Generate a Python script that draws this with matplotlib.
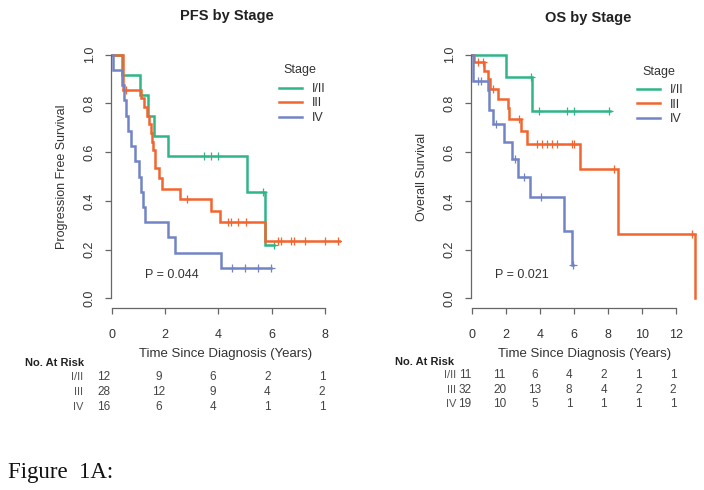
import numpy as np
import matplotlib
matplotlib.use("Agg")
import matplotlib.pyplot as plt
from matplotlib.lines import Line2D

plt.rcParams['font.family'] = ['Liberation Sans', 'DejaVu Sans']

# ---------------- data ----------------
stages = ["I/II", "III", "IV"]
colors = ["#2fb586", "#f2652f", "#7384c6"]

# PFS: event times and survival after each event
pfs_i_t = [0.39, 1.05, 1.37, 1.59, 2.12, 5.06, 5.76]
pfs_i_s = [0.917, 0.833, 0.750, 0.667, 0.583, 0.438, 0.219]
pfs_i_end = 6.10
pfs_i_cens = [3.46, 3.72, 3.97, 5.67, 6.10]

pfs_iii_t = [0.40, 1.10, 1.20, 1.30, 1.40, 1.45, 1.50, 1.55, 1.60, 1.63, 1.75, 1.87, 2.55, 3.72, 4.05, 5.76]
pfs_iii_s = [0.857, 0.821, 0.786, 0.750, 0.714, 0.679, 0.643, 0.607, 0.571, 0.536, 0.494, 0.449, 0.406, 0.358, 0.315, 0.236]
pfs_iii_end = 8.56
pfs_iii_cens = [0.54, 2.83, 4.35, 4.47, 4.72, 5.04, 6.23, 6.36, 6.74, 6.86, 7.24, 8.0, 8.5]

pfs_iv_t = [0.05, 0.38, 0.45, 0.52, 0.60, 0.72, 0.85, 1.00, 1.10, 1.17, 1.24, 2.12, 2.37, 4.08]
pfs_iv_s = [0.9375, 0.875, 0.8125, 0.75, 0.6875, 0.625, 0.5625, 0.5, 0.4375, 0.375, 0.3125, 0.25, 0.1875, 0.125]
pfs_iv_end = 5.98
pfs_iv_cens = [4.5, 5.0, 5.5, 5.98]

# OS
os_i_t = [2.00, 3.52]
os_i_s = [0.909, 0.770]
os_i_end = 8.10
os_i_cens = [3.46, 3.95, 5.60, 6.00, 8.05]

os_iii_t = [0.14, 0.72, 0.92, 1.07, 1.50, 2.09, 2.19, 2.87, 3.22, 6.35, 8.57, 13.09]
os_iii_s = [0.969, 0.935, 0.900, 0.860, 0.820, 0.780, 0.735, 0.685, 0.635, 0.530, 0.265, 0.0]
os_iii_end = 13.09
os_iii_cens = [0.33, 0.63, 1.25, 2.77, 3.85, 4.14, 4.43, 4.73, 5.02, 5.90, 6.00, 8.34, 12.93]

os_iv_t = [0.04, 0.92, 1.02, 1.21, 1.86, 2.38, 2.71, 3.42, 5.41, 5.86]
os_iv_s = [0.893, 0.856, 0.773, 0.714, 0.643, 0.571, 0.500, 0.415, 0.277, 0.138]
os_iv_end = 5.96
os_iv_cens = [0.33, 0.53, 1.40, 2.55, 3.05, 4.04, 5.96]

pfs_xticks = [0, 2, 4, 6, 8]
os_xticks = [0, 2, 4, 6, 8, 10, 12]
yticks = [0.0, 0.2, 0.4, 0.6, 0.8, 1.0]

pfs_risk = [[12, 9, 6, 2, 1], [28, 12, 9, 4, 2], [16, 6, 4, 1, 1]]
os_risk = [[11, 11, 6, 4, 2, 1, 1], [32, 20, 13, 8, 4, 2, 2], [19, 10, 5, 1, 1, 1, 1]]

pfs_p = "P = 0.044"
os_p = "P = 0.021"

# ---------------- figure ----------------
W, H = 704, 490
fig = plt.figure(figsize=(W / 100, H / 100), dpi=100)


def px(x, y):
    return x / W, 1 - y / H


def make_axes(x0, x1, y_top, y_bot):
    return fig.add_axes([x0 / W, 1 - y_bot / H, (x1 - x0) / W, (y_bot - y_top) / H])


axis_col = "#666666"
text_col = "#333333"


def style(ax, xticks, xlim):
    ax.set_xlim(*xlim)
    ax.set_ylim(-0.04, 1.04)
    for s in ["top", "right"]:
        ax.spines[s].set_visible(False)
    ax.spines["left"].set_bounds(0, 1)
    ax.spines["bottom"].set_bounds(xticks[0], xticks[-1])
    for s in ["left", "bottom"]:
        ax.spines[s].set_color(axis_col)
        ax.spines[s].set_linewidth(0.9)
    ax.set_xticks(xticks)
    ax.set_yticks(yticks)
    ax.set_yticklabels([f"{v:.1f}" for v in yticks], rotation=90, va="center")
    ax.tick_params(axis="both", direction="out", length=4, width=0.9, color=axis_col,
                   labelsize=9, labelcolor=text_col)
    ax.tick_params(axis="y", pad=7)
    ax.tick_params(axis="x", pad=11)
    ax.patch.set_alpha(0)


def draw_curve(ax, t, s, end, cens, col):
    tt = [0.0] + list(t) + [end]
    ss = [1.0] + list(s) + [s[-1]]
    ax.step(tt, ss, where="post", color=col, lw=1.8, solid_joinstyle="miter")
    ct = np.asarray(cens)
    idx = np.searchsorted(np.asarray(tt[:-1]), ct, side="right") - 1
    cy = np.asarray(ss)[idx]
    ax.plot(ct, cy, ls="none", marker="+", ms=6, mew=0.9, color=col)


# left (PFS)
axL = make_axes(111, 341, 45, 308)
style(axL, pfs_xticks, (-1 / 26.6, 230 / 26.6 - 1 / 26.6))
for (t, s, e, c), col in zip(
        [(pfs_i_t, pfs_i_s, pfs_i_end, pfs_i_cens),
         (pfs_iii_t, pfs_iii_s, pfs_iii_end, pfs_iii_cens),
         (pfs_iv_t, pfs_iv_s, pfs_iv_end, pfs_iv_cens)], colors):
    draw_curve(axL, t, s, e, c, col)
axL.set_xlabel("Time Since Diagnosis (Years)", fontsize=9.5, color=text_col, labelpad=5)
axL.set_ylabel("Progression Free Survival", fontsize=9, color=text_col, labelpad=11)

# right (OS)
axR = make_axes(471, 698, 45, 308)
style(axR, os_xticks, (-1 / 17.0, 227 / 17.0 - 1 / 17.0))
for (t, s, e, c), col in zip(
        [(os_i_t, os_i_s, os_i_end, os_i_cens),
         (os_iii_t, os_iii_s, os_iii_end, os_iii_cens),
         (os_iv_t, os_iv_s, os_iv_end, os_iv_cens)], colors):
    draw_curve(axR, t, s, e, c, col)
axR.set_xlabel("Time Since Diagnosis (Years)", fontsize=9.5, color=text_col, labelpad=5)
axR.set_ylabel("Overall Survival", fontsize=9, color=text_col, labelpad=11)

# legends
handles = [Line2D([0], [0], color=c, lw=1.8) for c in colors]
for ax, (tx, ty), (lx, ly) in [(axL, (300, 70), (279, 83)), (axR, (659, 72), (637, 84))]:
    fig.text(*px(tx, ty), "Stage", fontsize=9, color=text_col, ha="center", va="center")
    leg = ax.legend(handles, stages, loc="upper left",
                    bbox_to_anchor=px(lx, ly), bbox_transform=fig.transFigure,
                    frameon=False, fontsize=9,
                    handlelength=1.85, handletextpad=0.8, labelspacing=0.2,
                    borderpad=0, borderaxespad=0)
    for txt in leg.get_texts():
        txt.set_color(text_col)

# p values
fig.text(*px(145, 275), pfs_p, fontsize=9, color=text_col, va="center", ha="left")
fig.text(*px(495, 275), os_p, fontsize=9, color=text_col, va="center", ha="left")

# titles
fig.text(*px(227, 16), "PFS by Stage", fontsize=10.5, fontweight="bold", color="#222222",
         ha="center", va="center")
fig.text(*px(588, 18), "OS by Stage", fontsize=10.5, fontweight="bold", color="#222222",
         ha="center", va="center")

# at-risk tables
fig.text(*px(25, 363), "No. At Risk", fontsize=8, fontweight="bold", color="#222222",
         ha="left", va="center")
for r, (lab, row) in enumerate(zip(stages, pfs_risk)):
    y = 377 + r * 15
    fig.text(*px(83, y), lab, fontsize=8, color="#555555", ha="right", va="center")
    for tk, n in zip(pfs_xticks, row):
        fig.text(*px(104 + tk * 27.25, y), str(n), fontsize=8.5, color="#444444",
                 ha="center", va="center")

fig.text(*px(395, 362), "No. At Risk", fontsize=8, fontweight="bold", color="#222222",
         ha="left", va="center")
for r, (lab, row) in enumerate(zip(stages, os_risk)):
    y = 375 + r * 14.5
    fig.text(*px(456, y), lab, fontsize=8, color="#555555", ha="right", va="center")
    for tk, n in zip(os_xticks, row):
        fig.text(*px(465 + tk * 17.33, y), str(n), fontsize=8.5, color="#444444",
                 ha="center", va="center")

# caption
fig.text(*px(8, 472), "Figure  1A:", fontsize=16.5, color="#111111",
         family=["Liberation Serif", "DejaVu Serif"], ha="left", va="center")

fig.savefig("out.png", dpi=100)
